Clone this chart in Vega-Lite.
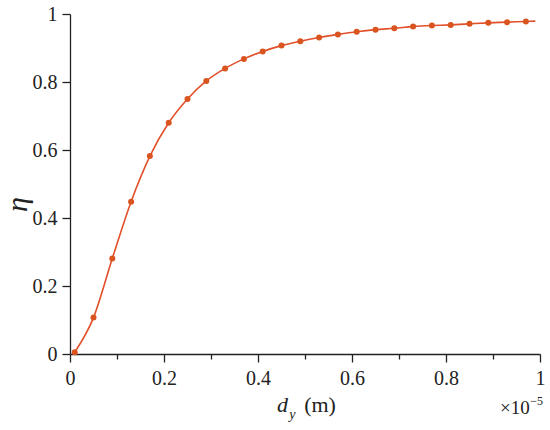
{
  "$schema": "https://vega.github.io/schema/vega-lite/v6.json",
  "width": 470,
  "height": 340,
  "autosize": "none",
  "padding": {"left": 70, "top": 14, "right": 10, "bottom": 76},
  "background": "white",
  "config": {
    "view": {"stroke": null},
    "font": "Liberation Serif, Times New Roman, DejaVu Serif, serif",
    "axis": {
      "domainColor": "#222",
      "domainWidth": 1.3,
      "tickColor": "#222",
      "tickWidth": 1.3,
      "grid": false,
      "labelFont": "Liberation Serif, Times New Roman, DejaVu Serif, serif",
      "labelFontSize": 20,
      "labelColor": "#222",
      "labelOverlap": false,
      "labelFlush": false
    }
  },
  "data": {
    "values": [
      {"dy": 0.01, "eta": 0.005, "marker": true},
      {"dy": 0.05, "eta": 0.107, "marker": true},
      {"dy": 0.09, "eta": 0.281, "marker": true},
      {"dy": 0.13, "eta": 0.448, "marker": true},
      {"dy": 0.17, "eta": 0.582, "marker": true},
      {"dy": 0.21, "eta": 0.680, "marker": true},
      {"dy": 0.25, "eta": 0.750, "marker": true},
      {"dy": 0.29, "eta": 0.803, "marker": true},
      {"dy": 0.33, "eta": 0.840, "marker": true},
      {"dy": 0.37, "eta": 0.868, "marker": true},
      {"dy": 0.41, "eta": 0.890, "marker": true},
      {"dy": 0.45, "eta": 0.907, "marker": true},
      {"dy": 0.49, "eta": 0.920, "marker": true},
      {"dy": 0.53, "eta": 0.931, "marker": true},
      {"dy": 0.57, "eta": 0.940, "marker": true},
      {"dy": 0.61, "eta": 0.948, "marker": true},
      {"dy": 0.65, "eta": 0.954, "marker": true},
      {"dy": 0.69, "eta": 0.958, "marker": true},
      {"dy": 0.73, "eta": 0.963, "marker": true},
      {"dy": 0.77, "eta": 0.966, "marker": true},
      {"dy": 0.81, "eta": 0.968, "marker": true},
      {"dy": 0.85, "eta": 0.971, "marker": true},
      {"dy": 0.89, "eta": 0.974, "marker": true},
      {"dy": 0.93, "eta": 0.976, "marker": true},
      {"dy": 0.97, "eta": 0.978, "marker": true},
      {"dy": 0.99, "eta": 0.979, "marker": false}
    ]
  },
  "layer": [
    {
      "mark": {"type": "line", "color": "#e2502a", "strokeWidth": 1.6, "interpolate": "monotone"},
      "encoding": {
        "x": {
          "field": "dy",
          "type": "quantitative",
          "scale": {"domain": [0, 1], "nice": false},
          "axis": {
            "title": null,
            "values": [0, 0.05, 0.1, 0.15, 0.2, 0.25, 0.3, 0.35, 0.4, 0.45, 0.5, 0.55, 0.6, 0.65, 0.7, 0.75, 0.8, 0.85, 0.9, 0.95, 1],
            "labelExpr": "abs(datum.value*5 - round(datum.value*5)) < 0.000001 ? toString(round(datum.value*10)/10) : ''",
            "tickSize": {"condition": {"test": "abs(datum.value*5 - round(datum.value*5)) < 0.000001", "value": 8}, "value": 5},
            "labelPadding": 6
          }
        },
        "y": {
          "field": "eta",
          "type": "quantitative",
          "scale": {"domain": [0, 1], "nice": false},
          "axis": {
            "title": "η",
            "titleFont": "Liberation Serif, Times New Roman, DejaVu Serif, serif",
            "titleFontStyle": "italic",
            "titleFontWeight": "normal",
            "titleFontSize": 30,
            "titleColor": "#222",
            "titlePadding": 0,
            "titleY": 190,
            "values": [0, 0.05, 0.1, 0.15, 0.2, 0.25, 0.3, 0.35, 0.4, 0.45, 0.5, 0.55, 0.6, 0.65, 0.7, 0.75, 0.8, 0.85, 0.9, 0.95, 1],
            "labelExpr": "abs(datum.value*5 - round(datum.value*5)) < 0.000001 ? toString(round(datum.value*10)/10) : ''",
            "tickSize": {"condition": {"test": "abs(datum.value*5 - round(datum.value*5)) < 0.000001", "value": 8}, "value": 5},
            "labelPadding": 5
          }
        }
      }
    },
    {
      "transform": [{"filter": "datum.marker"}],
      "mark": {"type": "point", "filled": true, "color": "#d9541e", "opacity": 1, "size": 36},
      "encoding": {
        "x": {"field": "dy", "type": "quantitative"},
        "y": {"field": "eta", "type": "quantitative"}
      }
    },
    {
      "data": {"values": [{}]},
      "mark": {"type": "text", "text": "d", "fontStyle": "italic", "fontSize": 22, "color": "#222", "align": "center", "baseline": "alphabetic"},
      "encoding": {
        "x": {"datum": 0.452, "type": "quantitative"},
        "y": {"datum": -0.172, "type": "quantitative"}
      }
    },
    {
      "data": {"values": [{}]},
      "mark": {"type": "text", "text": "y", "fontStyle": "italic", "fontSize": 14, "color": "#222", "align": "center", "baseline": "alphabetic"},
      "encoding": {
        "x": {"datum": 0.473, "type": "quantitative"},
        "y": {"datum": -0.19, "type": "quantitative"}
      }
    },
    {
      "data": {"values": [{}]},
      "mark": {"type": "text", "text": "(m)", "fontSize": 22, "color": "#222", "align": "center", "baseline": "alphabetic"},
      "encoding": {
        "x": {"datum": 0.532, "type": "quantitative"},
        "y": {"datum": -0.172, "type": "quantitative"}
      }
    },
    {
      "data": {"values": [{}]},
      "mark": {"type": "text", "text": "×10", "fontSize": 19, "color": "#222", "align": "right", "baseline": "alphabetic"},
      "encoding": {
        "x": {"datum": 0.978, "type": "quantitative"},
        "y": {"datum": -0.175, "type": "quantitative"}
      }
    },
    {
      "data": {"values": [{}]},
      "mark": {"type": "text", "text": "−5", "fontSize": 12, "color": "#222", "align": "left", "baseline": "alphabetic"},
      "encoding": {
        "x": {"datum": 0.979, "type": "quantitative"},
        "y": {"datum": -0.15, "type": "quantitative"}
      }
    }
  ]
}
